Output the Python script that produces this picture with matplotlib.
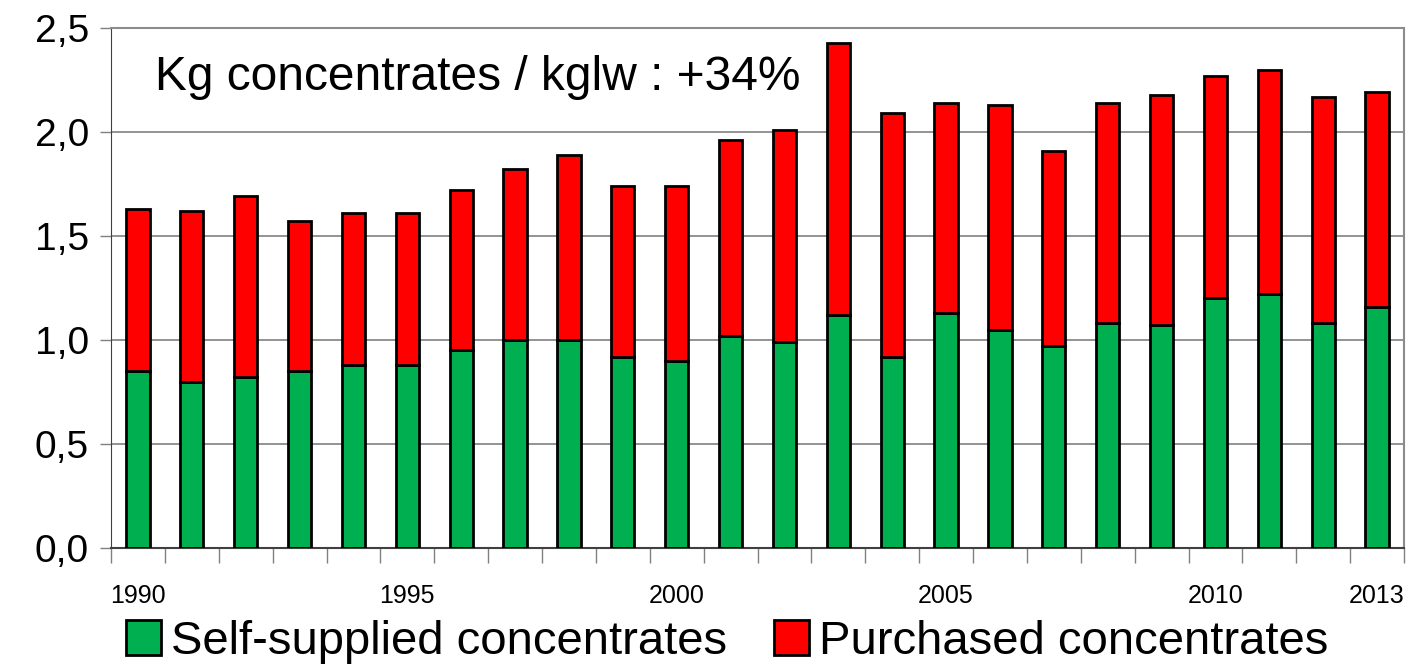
import numpy as np
import matplotlib.pyplot as plt

plt.rcParams['font.family'] = ['Liberation Sans', 'DejaVu Sans']

years = list(range(1990, 2014))
self_supplied = [0.85, 0.80, 0.82, 0.85, 0.88, 0.88, 0.95, 1.00, 1.00, 0.92, 0.90,
                 1.02, 0.99, 1.12, 0.92, 1.13, 1.05, 0.97, 1.08, 1.07, 1.20, 1.22, 1.08, 1.16]
total = [1.63, 1.62, 1.69, 1.57, 1.61, 1.61, 1.72, 1.82, 1.89, 1.74, 1.74,
         1.96, 2.01, 2.43, 2.09, 2.14, 2.13, 1.91, 2.14, 2.18, 2.27, 2.30, 2.17, 2.19]
purchased = [t - s for t, s in zip(total, self_supplied)]
labelled_years = [1990, 1995, 2000, 2005, 2010, 2013]

green, red = '#00B050', '#FF0000'

fig = plt.figure(figsize=(14.17, 6.67), dpi=100)
ax = fig.add_axes([111/1417, 1 - 548/667, 1293/1417, 520/667])

ind = np.arange(len(years))
p1 = ax.bar(ind, self_supplied, 0.43, color=green, edgecolor='black', linewidth=2, zorder=3)
p2 = ax.bar(ind, purchased, 0.43, bottom=self_supplied, color=red, edgecolor='black',
            linewidth=2, zorder=3)

ax.set_xlim(-0.5, len(years) - 0.5)
ax.set_ylim(0, 2.5)
ax.set_yticks(np.arange(0, 2.51, 0.5))
ax.set_yticklabels([f'{v:.1f}'.replace('.', ',') for v in np.arange(0, 2.51, 0.5)], fontsize=28)
ax.yaxis.grid(True, color='#808080', linewidth=1.2, zorder=0)
ax.tick_params(axis='y', length=8, width=1, color='#808080', pad=8)

ax.set_xticks(np.arange(-0.5, len(years), 1))
ax.set_xticklabels([])
ax.tick_params(axis='x', which='major', length=11, width=1, color='#808080')
ax.set_xticks([years.index(y) for y in labelled_years], minor=True)
ax.set_xticklabels([str(y) for y in labelled_years], minor=True, fontsize=18)
ax.tick_params(axis='x', which='minor', length=0, pad=26)

for s in ['top', 'right']:
    ax.spines[s].set_color('#8c8c8c')
    ax.spines[s].set_linewidth(1.5)
ax.spines['left'].set_color('#404040')
ax.spines['bottom'].set_color('#404040')
ax.spines['bottom'].set_linewidth(1.5)

ax.text(0.034, 0.905, 'Kg concentrates / kglw : +34%', transform=ax.transAxes,
        fontsize=34.5, va='center', ha='left')

fig.legend((p1[0], p2[0]), ('Self-supplied concentrates', 'Purchased concentrates'),
           loc='center', bbox_to_anchor=(0.513, 1 - 642/667), ncol=2, frameon=False,
           fontsize=34, handlelength=0.75, handleheight=0.75, handletextpad=0.2,
           columnspacing=1.0)

plt.savefig('out.png', dpi=100)
